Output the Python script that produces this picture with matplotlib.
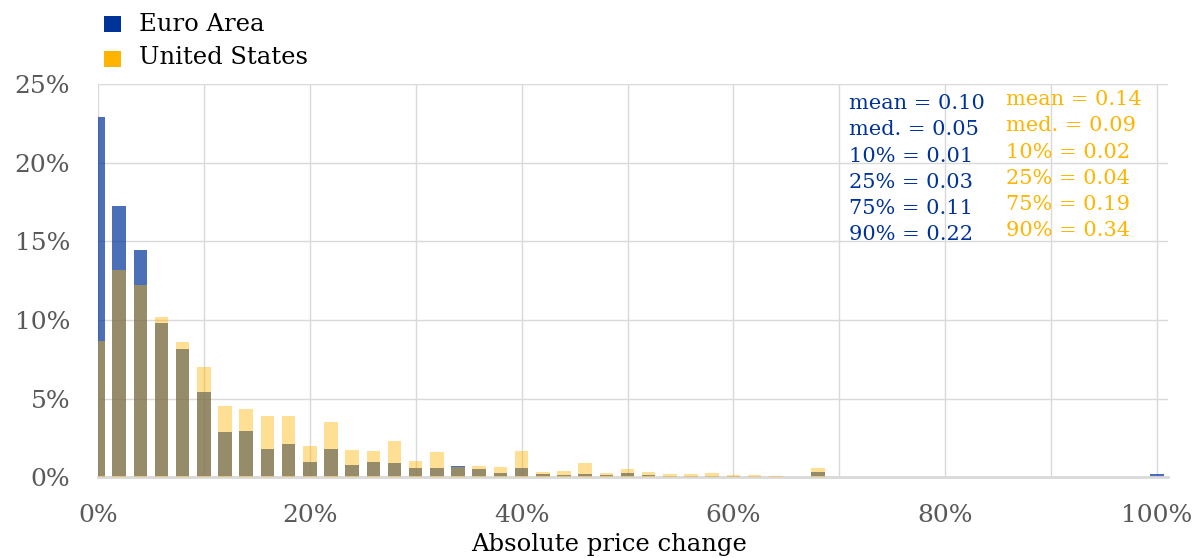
import matplotlib
matplotlib.use("Agg")
import matplotlib.pyplot as plt
from matplotlib.patches import Rectangle
from matplotlib.ticker import PercentFormatter, MultipleLocator

# ---------------- data ----------------
bin_pct = list(range(0, 101, 2))  # bin centres, % absolute price change

euro_area = [22.90, 17.27, 14.43, 9.81, 8.14, 5.42, 2.90, 2.94, 1.82, 2.14,
             0.97, 1.82, 0.78, 1.00, 0.93, 0.59, 0.59, 0.74, 0.51, 0.30,
             0.57, 0.23, 0.17, 0.23, 0.13, 0.30, 0.17, 0.10, 0.09, 0.10,
             0.09, 0.03, 0.02, 0.01, 0.34, 0.02, 0.01, 0.01, 0.01, 0.01,
             0.01, 0.01, 0.01, 0.01, 0.01, 0.01, 0.01, 0.01, 0.01, 0.01,
             0.21]
united_states = [8.64, 13.20, 12.22, 10.19, 8.58, 7.01, 4.51, 4.34, 3.88, 3.90,
                 1.99, 3.52, 1.73, 1.65, 2.33, 1.04, 1.61, 0.68, 0.72, 0.68,
                 1.65, 0.34, 0.40, 0.89, 0.25, 0.51, 0.34, 0.19, 0.23, 0.30,
                 0.15, 0.13, 0.09, 0.04, 0.57, 0.01, 0.00, 0.00, 0.00, 0.00,
                 0.00, 0.00, 0.00, 0.00, 0.00, 0.00, 0.00, 0.00, 0.00, 0.00,
                 0.00]

series_names = ["Euro Area", "United States"]
ea_stats = ["mean = 0.10", "med. = 0.05", "10% = 0.01",
            "25% = 0.03", "75% = 0.11", "90% = 0.22"]
us_stats = ["mean = 0.14", "med. = 0.09", "10% = 0.02",
            "25% = 0.04", "75% = 0.19", "90% = 0.34"]
x_label = "Absolute price change"

# ---------------- style ----------------
FONT = ["DejaVu Serif"]
plt.rcParams["font.family"] = FONT
BLUE = "#003399"
GOLD = "#FFB400"
GRID = "#D9D9D9"
TICK = "#595959"

W, H = 1202, 558
fig = plt.figure(figsize=(W / 100, H / 100), dpi=100)
left, right, top, bottom = 98, 1168, 84.3, 477.3
ax = fig.add_axes([left / W, 1 - bottom / H, (right - left) / W, (bottom - top) / H])

x = [b / 100 for b in bin_pct]
ea = [v / 100 for v in euro_area]
us = [v / 100 for v in united_states]
bw = 0.0128
ax.bar(x, ea, width=bw, color=BLUE, alpha=0.70, linewidth=0, zorder=2)
ax.bar(x, us, width=bw, color=GOLD, alpha=0.42, linewidth=0, zorder=3)

ax.set_xlim(0, 1.0 * (right - left) / (1157 - left))
ax.set_ylim(0, 0.25)
ax.xaxis.set_major_locator(MultipleLocator(0.2))
ax.xaxis.set_minor_locator(MultipleLocator(0.1))
ax.yaxis.set_major_locator(MultipleLocator(0.05))
ax.xaxis.set_major_formatter(PercentFormatter(1, decimals=0))
ax.yaxis.set_major_formatter(PercentFormatter(1, decimals=0))
ax.grid(True, which="both", color=GRID, linewidth=1.0, zorder=0)
ax.set_axisbelow(True)
for s in ["top", "right", "left"]:
    ax.spines[s].set_visible(False)
ax.spines["bottom"].set_color(GRID)
ax.spines["bottom"].set_linewidth(2.0)
ax.tick_params(axis="both", which="both", length=0, labelsize=18, labelcolor=TICK)
ax.tick_params(axis="x", pad=19)
ax.tick_params(axis="y", pad=20)

fig.text(609.5 / W, 1 - 545 / H, x_label, ha="center", va="center",
         fontsize=17.5, color="black")

# legend
for i, (name, col) in enumerate(zip(series_names, [BLUE, GOLD])):
    y0 = 16 + i * 35
    fig.patches.append(Rectangle((104 / W, 1 - (y0 + 16) / H), 17 / W, 16 / H,
                                 transform=fig.transFigure, facecolor=col,
                                 edgecolor="none"))
    fig.text(139 / W, 1 - (31 + i * 33) / H, name, ha="left", va="baseline",
             fontsize=17.5, color="black")

# statistics
for i, t in enumerate(ea_stats):
    fig.text(849 / W, 1 - (109.3 + i * 26.2) / H, t, ha="left", va="baseline",
             fontsize=15, color=BLUE)
for i, t in enumerate(us_stats):
    fig.text(1006 / W, 1 - (105 + i * 26.3) / H, t, ha="left", va="baseline",
             fontsize=15, color=GOLD)

fig.savefig("out.png", dpi=100)
